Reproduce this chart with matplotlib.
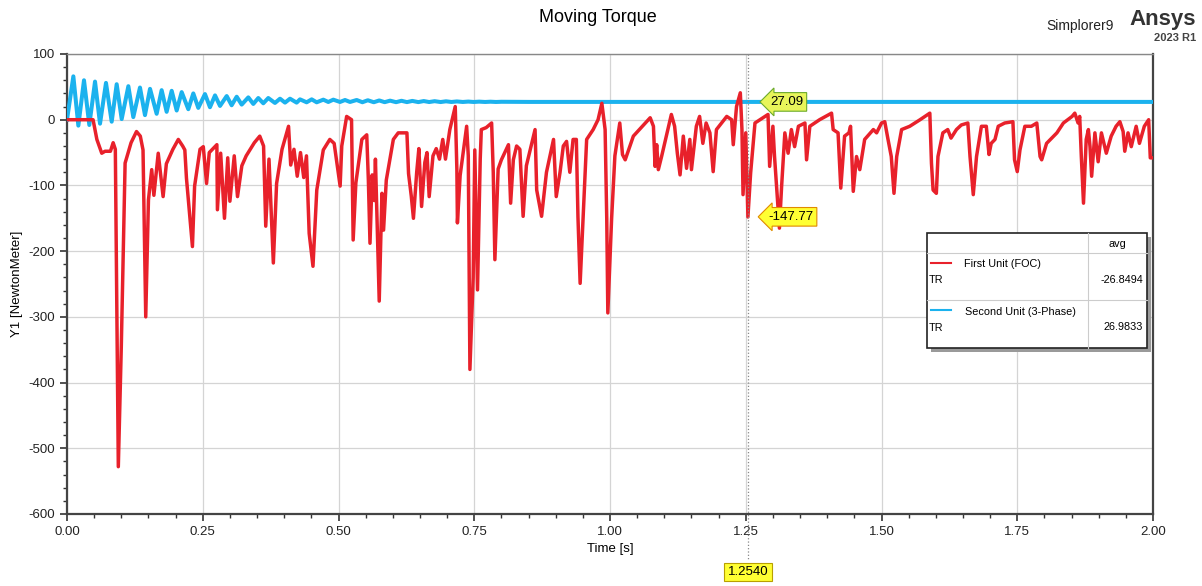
import numpy as np
import matplotlib
matplotlib.use("Agg")
import matplotlib.pyplot as plt
from matplotlib.patches import Rectangle
from matplotlib.lines import Line2D
import matplotlib.transforms as mtransforms

plt.rcParams['font.family'] = ['Liberation Sans', 'DejaVu Sans']
plt.rcParams['axes.unicode_minus'] = False

# ---- data ----
# first unit (FOC), moving torque [Nm] vs time [s]
red_t = [0.0, 0.048, 0.055, 0.064, 0.070, 0.080, 0.085, 0.089, 0.0945, 0.100, 0.107, 0.118, 0.128, 0.135,
         0.140, 0.145, 0.150, 0.156, 0.160, 0.168, 0.177, 0.183, 0.195, 0.205, 0.213, 0.217, 0.220, 0.231,
         0.235, 0.245, 0.251, 0.257, 0.262, 0.276, 0.277, 0.283, 0.290, 0.296, 0.300, 0.308, 0.314, 0.322,
         0.330, 0.345, 0.355, 0.362, 0.366, 0.372, 0.380, 0.386, 0.396, 0.408, 0.412, 0.418, 0.424, 0.430,
         0.436, 0.441, 0.446, 0.453, 0.460, 0.472, 0.484, 0.492, 0.503, 0.506, 0.515, 0.524, 0.527, 0.532,
         0.543, 0.552, 0.555, 0.558, 0.562, 0.566, 0.568, 0.575, 0.580, 0.583, 0.588, 0.601, 0.610, 0.626,
         0.629, 0.634, 0.638, 0.644, 0.648, 0.653, 0.659, 0.663, 0.667, 0.674, 0.680, 0.686, 0.692, 0.697,
         0.705, 0.715, 0.718, 0.719, 0.724, 0.736, 0.739, 0.742, 0.748, 0.751, 0.756, 0.761, 0.763, 0.772,
         0.782, 0.785, 0.788, 0.794, 0.800, 0.813, 0.817, 0.822, 0.828, 0.834, 0.840, 0.846, 0.862, 0.865,
         0.874, 0.883, 0.896, 0.901, 0.908, 0.914, 0.920, 0.926, 0.932, 0.938, 0.941, 0.945, 0.957, 0.969,
         0.978, 0.985, 0.991, 0.994, 0.996, 1.003, 1.009, 1.018, 1.023, 1.028, 1.043, 1.074, 1.080, 1.083,
         1.086, 1.089, 1.095, 1.113, 1.119, 1.124, 1.129, 1.135, 1.141, 1.147, 1.150, 1.159, 1.165, 1.171,
         1.177, 1.184, 1.190, 1.196, 1.215, 1.224, 1.227, 1.233, 1.240, 1.243, 1.245, 1.250, 1.252, 1.254,
         1.259, 1.267, 1.291, 1.294, 1.300, 1.303, 1.312, 1.316, 1.322, 1.328, 1.334, 1.340, 1.347, 1.359,
         1.362, 1.368, 1.386, 1.408, 1.411, 1.420, 1.425, 1.432, 1.440, 1.443, 1.448, 1.454, 1.460, 1.469,
         1.485, 1.491, 1.500, 1.506, 1.512, 1.518, 1.523, 1.528, 1.537, 1.552, 1.571, 1.589, 1.592, 1.595,
         1.601, 1.604, 1.613, 1.622, 1.628, 1.638, 1.647, 1.659, 1.663, 1.669, 1.675, 1.684, 1.693, 1.698,
         1.702, 1.709, 1.715, 1.727, 1.742, 1.745, 1.750, 1.755, 1.764, 1.776, 1.786, 1.792, 1.795, 1.804,
         1.823, 1.835, 1.851, 1.856, 1.862, 1.865, 1.868, 1.872, 1.877, 1.881, 1.884, 1.887, 1.893, 1.899,
         1.905, 1.914, 1.923, 1.932, 1.939, 1.945, 1.948, 1.954, 1.960, 1.969, 1.975, 1.984, 1.992, 1.995,
         2.0]
red_y = [0, 0, -30, -51, -48, -48, -35, -45, -528, -345, -66, -35, -18, -25,
         -46, -300, -122, -76, -115, -51, -117, -67, -45, -30, -40, -46, -89, -193,
         -101, -45, -41, -97, -50, -38, -137, -51, -150, -58, -124, -55, -117, -70,
         -55, -35, -25, -40, -162, -60, -218, -97, -45, -10, -69, -45, -86, -50,
         -88, -55, -173, -223, -107, -46, -30, -36, -101, -40, 5, 0, -183, -96,
         -30, -23, -92, -188, -84, -123, -60, -276, -112, -168, -92, -30, -20, -20,
         -82, -116, -150, -80, -44, -132, -65, -50, -117, -55, -44, -60, -30, -60,
         -15, 20, -76, -157, -85, -10, -55, -380, -240, -46, -259, -60, -15, -12,
         -5, -80, -213, -75, -61, -38, -127, -61, -40, -45, -147, -70, -15, -107,
         -147, -80, -30, -117, -80, -40, -33, -80, -30, -30, -148, -249, -30, -15,
         0, 25, -15, -150, -294, -150, -55, -5, -53, -61, -25, 3, -10, -71,
         -38, -76, -56, 8, -10, -51, -84, -25, -74, -30, -76, -10, 5, -36,
         -5, -20, -79, -15, 5, 0, -38, 20, 41, -15, -114, -20, -86, -148,
         -81, -5, 8, -71, -10, -56, -165, -102, -20, -51, -15, -41, -10, -5,
         -61, -10, 0, 10, -15, -20, -104, -25, -20, -10, -109, -56, -76, -30,
         -15, -20, -5, -3, -30, -56, -112, -56, -15, -10, 0, 10, -66, -107,
         -112, -56, -20, -15, -28, -15, -8, -5, -56, -114, -56, -10, -10, -53,
         -36, -30, -10, -5, -3, -61, -79, -46, -10, -10, -5, -56, -61, -36,
         -20, -5, 5, 10, -5, 5, -56, -127, -30, -15, -41, -86, -20, -64,
         -20, -51, -25, -10, -3, -18, -48, -20, -41, -10, -36, -10, 0, -58,
         -58]

# second unit (3-phase): extremes of the decaying oscillation, then steady
blue_peak_t = [0.0117, 0.0313, 0.0516, 0.0718, 0.0915, 0.113, 0.1344, 0.1529, 0.1743, 0.1928, 0.2112,
               0.2326, 0.2541, 0.2726, 0.2941, 0.3125, 0.3339, 0.3523, 0.3707, 0.3923, 0.4107, 0.4291,
               0.4506, 0.472, 0.4904, 0.512, 0.5335, 0.554, 0.575, 0.595, 0.616, 0.636, 0.657, 0.677,
               0.698, 0.718, 0.739, 0.759, 0.780, 0.800]
blue_peak_y = [66, 60, 58, 56, 54, 51, 49, 47, 45, 44, 42, 40, 39, 37, 36, 35, 34, 33, 33, 32, 32, 31,
               31, 30.5, 30.5, 30, 30, 29.6, 29.3, 29.0, 28.8, 28.6, 28.4, 28.2, 28.0, 27.8, 27.6, 27.5,
               27.4, 27.3]
blue_trough_t = [0.0209, 0.0411, 0.0608, 0.0823, 0.1007, 0.1221, 0.1436, 0.1651, 0.1835, 0.202, 0.2234,
                 0.2418, 0.2633, 0.2818, 0.3032, 0.3217, 0.3431, 0.3615, 0.383, 0.4015, 0.4229, 0.4413,
                 0.4598, 0.4812, 0.5028, 0.5212, 0.544, 0.565, 0.585, 0.606, 0.626, 0.647, 0.667, 0.688,
                 0.708, 0.729, 0.749, 0.770, 0.790]
blue_trough_y = [-9, -8, -6, -3, 1, 4, 7, 9, 12, 14, 16, 18, 19, 21, 22, 23, 24, 25, 25.5, 26, 26,
                 26.5, 26.5, 27, 27, 27, 26.6, 26.6, 26.7, 26.7, 26.8, 26.8, 26.9, 26.9, 27.0, 27.0,
                 27.0, 27.0, 27.0]
blue_tail_t = [0.85, 2.0]
blue_tail_y = [27.09, 27.09]

cursor_t = 1.254
cursor_blue = 27.09
cursor_red = -147.77
avg_red = "-26.8494"
avg_blue = "26.9833"

red_col = '#E8212B'
blue_col = '#1BB2EE'

# build blue series (start at 0, alternate peak/trough)
blue_t = [0.0]
blue_y = [0.0]
for i in range(len(blue_peak_t)):
    blue_t.append(blue_peak_t[i]); blue_y.append(blue_peak_y[i])
    if i < len(blue_trough_t):
        blue_t.append(blue_trough_t[i]); blue_y.append(blue_trough_y[i])
blue_t += blue_tail_t
blue_y += blue_tail_y

W, H = 1202, 586
fig = plt.figure(figsize=(W / 100, H / 100), dpi=100)

def fx(x):
    return x / W

def fy(y):
    return 1 - y / H

ax = fig.add_axes([fx(67), fy(514), fx(1153) - fx(67), fy(54) - fy(514)])

ax.plot(blue_t, blue_y, color=blue_col, lw=2.9, solid_joinstyle='round', zorder=3)
ax.plot(red_t, red_y, color=red_col, lw=2.5, solid_joinstyle='round', zorder=4)

ax.set_xlim(0, 2)
ax.set_ylim(-600, 100)
ax.set_xticks(np.arange(0, 2.01, 0.25))
ax.set_xticklabels(['%.2f' % v for v in np.arange(0, 2.01, 0.25)])
ax.set_yticks(np.arange(-600, 101, 100))
ax.set_xticks(np.arange(0, 2.001, 0.05), minor=True)
ax.set_yticks(np.arange(-600, 101, 20), minor=True)
ax.grid(True, which='major', color='#d4d4d4', lw=0.9)
ax.set_axisbelow(True)
ax.tick_params(which='major', direction='out', length=5, width=1.2, colors='#333333', labelsize=9.5,
               labelcolor='#222222')
ax.tick_params(which='minor', direction='out', length=3, width=1.0, colors='#333333')
for s in ['left', 'bottom', 'right']:
    ax.spines[s].set_color('#444444')
    ax.spines[s].set_linewidth(1.6)
ax.spines['top'].set_color('#888888')
ax.spines['top'].set_linewidth(1.0)

ax.set_xlabel('Time [s]', fontsize=9.5, labelpad=4)
ax.set_ylabel('Y1 [NewtonMeter]', fontsize=9.5, labelpad=4)

# cursor line at 1.254 s
trans = mtransforms.blended_transform_factory(ax.transData, ax.transAxes)
ax.plot([cursor_t, cursor_t], [1.0, -0.10], transform=trans, color='#888888', lw=0.9, ls=':',
        clip_on=False, zorder=5)
ax.text(cursor_t, -0.126, '%.4f' % cursor_t, transform=trans, ha='center', va='center', fontsize=9.5,
        bbox=dict(boxstyle='square,pad=0.25', fc='#FFFF33', ec='#B8A000', lw=0.8), zorder=6)

ax.annotate('%.2f' % cursor_blue, xy=(cursor_t, cursor_blue), xytext=(28, 0), textcoords='offset points',
            ha='center', va='center', fontsize=9.5, zorder=7,
            bbox=dict(boxstyle='larrow,pad=0.25', fc='#E8F55A', ec='#6BAA2A', lw=0.8))
ax.annotate('%.2f' % cursor_red, xy=(cursor_t, cursor_red), xytext=(31, 0), textcoords='offset points',
            ha='center', va='center', fontsize=9.5, zorder=7,
            bbox=dict(boxstyle='larrow,pad=0.25', fc='#FFFF33', ec='#E08A00', lw=0.8))

# legend table (drawn by hand, like the simulator's)
lx0, lx1, ly0, ly1 = 927, 1147, 233, 348
fig.patches.append(Rectangle((fx(lx0 + 4), fy(ly1 + 4)), fx(lx1) - fx(lx0), fy(ly0) - fy(ly1),
                             transform=fig.transFigure, fc='#9a9a9a', ec='none', zorder=8))
fig.patches.append(Rectangle((fx(lx0), fy(ly1)), fx(lx1) - fx(lx0), fy(ly0) - fy(ly1),
                             transform=fig.transFigure, fc='white', ec='#222222', lw=1.2, zorder=9))
for yy in [253, 300]:
    fig.lines.append(Line2D([fx(lx0), fx(lx1)], [fy(yy), fy(yy)], transform=fig.transFigure,
                            color='#cccccc', lw=0.8, zorder=10))
fig.lines.append(Line2D([fx(1088), fx(1088)], [fy(ly0), fy(ly1)], transform=fig.transFigure,
                        color='#cccccc', lw=0.8, zorder=10))
fig.lines.append(Line2D([fx(931), fx(951)], [fy(263), fy(263)], transform=fig.transFigure,
                        color=red_col, lw=1.5, zorder=10))
fig.lines.append(Line2D([fx(931), fx(951)], [fy(310), fy(310)], transform=fig.transFigure,
                        color=blue_col, lw=1.5, zorder=10))
fs = 7.8
fig.text(fx(1117), fy(244), 'avg', ha='center', va='center', fontsize=fs, zorder=11)
fig.text(fx(964), fy(264), 'First Unit (FOC)', ha='left', va='center', fontsize=fs, zorder=11)
fig.text(fx(929), fy(280), 'TR', ha='left', va='center', fontsize=fs, zorder=11)
fig.text(fx(1143), fy(280), avg_red, ha='right', va='center', fontsize=fs, zorder=11)
fig.text(fx(965), fy(312), 'Second Unit (3-Phase)', ha='left', va='center', fontsize=fs, zorder=11)
fig.text(fx(929), fy(328), 'TR', ha='left', va='center', fontsize=fs, zorder=11)
fig.text(fx(1143), fy(327), avg_blue, ha='right', va='center', fontsize=fs, zorder=11)

# title and branding
fig.text(fx(598), fy(18), 'Moving Torque', ha='center', va='center', fontsize=13)
fig.text(fx(1114), fy(26), 'Simplorer9', ha='right', va='center', fontsize=10, color='#222222')
fig.text(fx(1196), fy(19), 'Ansys', ha='right', va='center', fontsize=16, fontweight='bold', color='#333333')
fig.text(fx(1196), fy(38), '2023 R1', ha='right', va='center', fontsize=8, fontweight='bold', color='#444444')

fig.savefig('out.png', dpi=100)
